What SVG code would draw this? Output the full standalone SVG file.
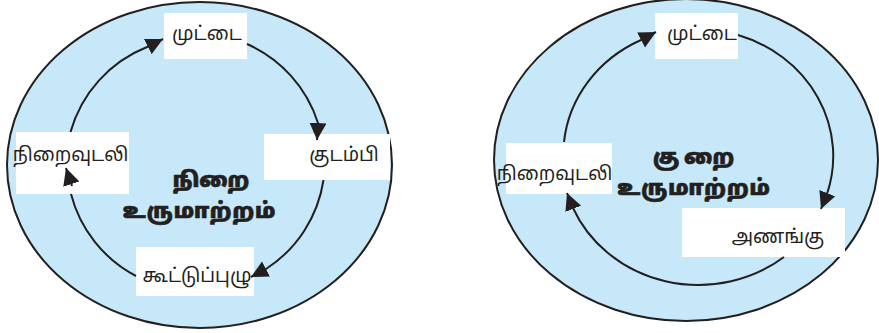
<svg xmlns="http://www.w3.org/2000/svg" width="879" height="333" viewBox="0 0 879 333">
<defs>
<style>
.bg{fill:#c6e8f8;stroke:#231f20;stroke-width:2}
.box{fill:#ffffff;stroke:none}
.lbl{font-family:"Noto Sans Tamil","Lohit Tamil","Noto Sans",sans-serif;font-size:19px;fill:#231f20;text-anchor:middle}
.ttl{font-family:"Noto Sans Tamil","Lohit Tamil","Noto Sans",sans-serif;font-size:21px;font-weight:900;fill:#231f20;stroke:#231f20;stroke-width:0.6;text-anchor:middle}
.con{fill:none;stroke:#231f20;stroke-width:2;marker-end:url(#ah)}
</style>
<marker id="ah" markerUnits="userSpaceOnUse" markerWidth="20" markerHeight="20" refX="17" refY="8.5" orient="auto">
<path d="M0,0 L17,8.5 L0,17 z" fill="#231f20"/>
</marker>
</defs>

<g id="background">
<ellipse class="bg" cx="199.5" cy="165" rx="192.5" ry="163"/>
<ellipse class="bg" cx="686" cy="160" rx="192" ry="161"/>
</g>

<g id="title-left">
<text class="ttl" x="211" y="187">நிறை</text>
<text class="ttl" x="199.5" y="218" letter-spacing="1">உருமாற்றம்</text>
</g>
<g id="title-right">
<text class="ttl" x="696" y="164" letter-spacing="5">குறை</text>
<text class="ttl" x="694" y="195" letter-spacing="1">உருமாற்றம்</text>
</g>

<g id="node-muttai-left">
<rect class="box" x="164" y="13" width="83" height="46"/>
<text class="lbl" x="207" y="40">முட்டை</text>
</g>
<g id="node-kudampi">
<rect class="box" x="264" y="134" width="126" height="46"/>
<text class="lbl" x="344" y="161">குடம்பி</text>
</g>
<g id="node-koottuppuzhu">
<rect class="box" x="136" y="247" width="118" height="49"/>
<text class="lbl" x="197" y="282">கூட்டுப்புழு</text>
</g>
<g id="node-niraivudali-left">
<rect class="box" x="16" y="132" width="113" height="62"/>
<text class="lbl" x="70.5" y="161">நிறைவுடலி</text>
</g>

<g id="node-muttai-right">
<rect class="box" x="655" y="13" width="83" height="46"/>
<text class="lbl" x="702" y="40">முட்டை</text>
</g>
<g id="node-ananku">
<rect class="box" x="682" y="208" width="163" height="49"/>
<text class="lbl" x="778" y="243">அணங்கு</text>
</g>
<g id="node-niraivudali-right">
<rect class="box" x="506" y="143" width="106" height="51"/>
<text class="lbl" x="554.5" y="180">நிறைவுடலி</text>
</g>

<g id="connectors">
<path class="con" d="M247,44 A129,129 0 0 1 318,123 L317,140"/>
<path class="con" d="M323.5,180 A129,129 0 0 1 266,269 L251,277"/>
<path class="con" d="M136,276 A129,129 0 0 1 71,194 M72,186 L66,168"/>
<path class="con" d="M70.5,132 A129,129 0 0 1 147,47 L163,39"/>
<path class="con" d="M738,35 A136.5,127 0 0 1 827,194 L821,209"/>
<path class="con" d="M784,257 A136.5,127 0 0 1 573,208 L567,193"/>
<path class="con" d="M564,142 A136.5,127 0 0 1 641,40 L656,32"/>
</g>
</svg>
